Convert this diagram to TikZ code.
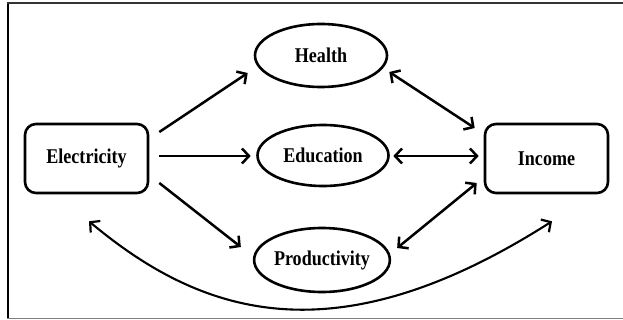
\documentclass[tikz,border=0pt]{standalone}
\usepackage{fontspec}
\setmainfont{Liberation Serif}[FakeStretch=0.86]
\usetikzlibrary{arrows.meta,shapes.geometric}
\tikzset{
  x=1pt, y=-1pt,
  box/.style={draw, line width=2.6pt, rounded corners=11pt, minimum width=123pt, minimum height=69pt, inner sep=0pt},
  oval/.style={draw, ellipse, line width=2.6pt, inner sep=0pt},
  lbl/.style={font=\fontsize{21}{23}\selectfont\bfseries},
  arr/.style={line width=2.5pt, -{Straight Barb[length=7pt,width=15pt,line width=2.5pt]}},
  darr/.style={line width=2.5pt, {Straight Barb[length=7pt,width=15pt,line width=2.5pt]}-{Straight Barb[length=7pt,width=15pt,line width=2.5pt]}},
  carr/.style={line width=2.1pt, {Straight Barb[length=7pt,width=15pt,line width=2.2pt]}-{Straight Barb[length=7pt,width=15pt,line width=2.2pt]}}
}
\begin{document}
\begin{tikzpicture}
\useasboundingbox (0,0) rectangle (623,320);
% frame
\draw[line width=2.4pt] (8,2) -- (8,319);
\draw[line width=2pt, black!80] (7,3) -- (623,3);
\draw[line width=1.5pt, black!50] (7,318.5) -- (623,318.5);
% nodes
\node[box, lbl] (elec) at (86.5,158.5) {Electricity};
\node[box, lbl] (inc) at (546.5,158.5) {Income};
\node[oval, lbl, minimum width=132pt, minimum height=63pt] (hea) at (321,55.5) {Health};
\node[oval, lbl, minimum width=131pt, minimum height=61pt] (edu) at (323,155.5) {Education};
\node[oval, lbl, minimum width=132pt, minimum height=64pt] (pro) at (322,260) {Productivity};
% arrows
\draw[arr] ([shift={(10,-26.5)}]elec.east) -- ([shift={(-6,17.5)}]hea.west);
\draw[arr] ([shift={(10,-2.5)}]elec.east) -- ([shift={(-5.5,0.5)}]edu.west);
\draw[arr] ([shift={(10,24.5)}]elec.east) -- ([shift={(-12,-13)}]pro.west);
\draw[darr] ([shift={(1,16.5)}]hea.east) -- ([shift={(-9,-30.5)}]inc.west);
\draw[darr] ([shift={(3.5,0.5)}]edu.east) -- ([shift={(-5,-2.5)}]inc.west);
\draw[darr] ([shift={(6,-12)}]pro.east) -- ([shift={(-7,24.5)}]inc.west);
\draw[carr] ([shift={(2.5,27)}]elec.south) .. controls (200,314) and (333,361) .. ([shift={(5.5,27)}]inc.south);
\end{tikzpicture}
\end{document}
